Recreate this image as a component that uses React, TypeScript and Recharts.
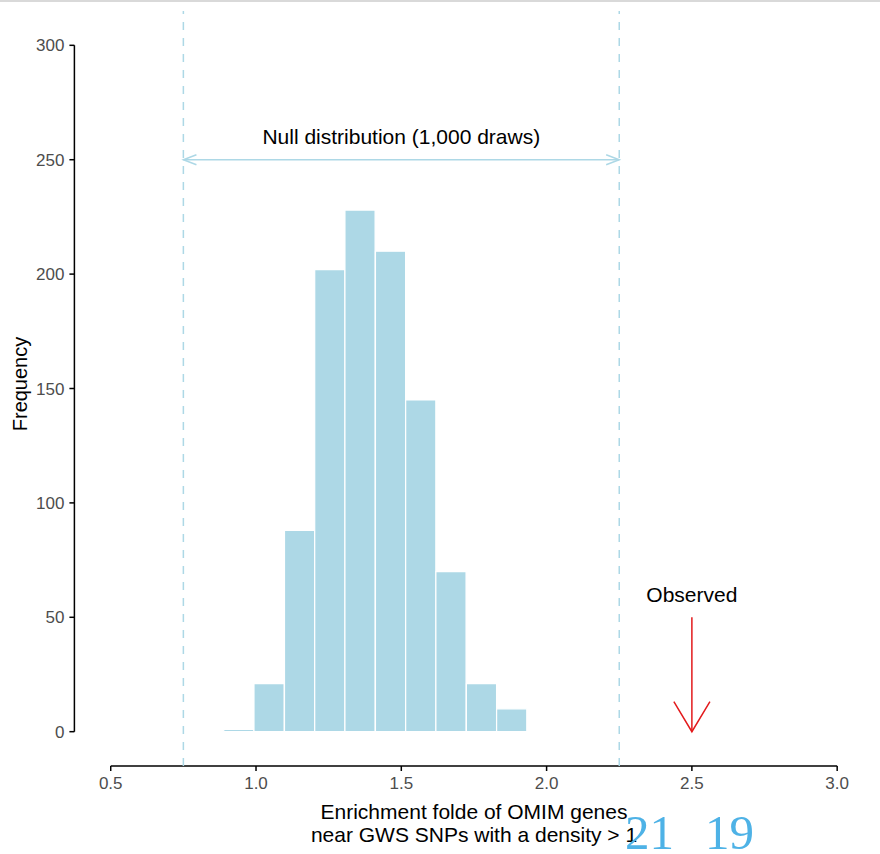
import { ComposedChart, Bar, XAxis, YAxis, ReferenceLine, ReferenceDot } from "recharts";

// histogram of the null enrichment (1,000 draws), bin width ~0.104
const binCenters = [0.941, 1.045, 1.15, 1.254, 1.358, 1.463, 1.567, 1.671, 1.776, 1.88];
const binCounts = [1, 21, 88, 202, 228, 210, 145, 70, 21, 10];

const xTicks = [0.5, 1.0, 1.5, 2.0, 2.5, 3.0];
const yTicks = [0, 50, 100, 150, 200, 250, 300];
const xDomain: [number, number] = [0.375, 3.125];
const yDomain: [number, number] = [-15, 315];

const nullBounds = [0.75, 2.25];
const nullArrowY = 250;
const nullLabel = { x: 1.5, y: 260, text: "Null distribution (1,000 draws)" };
const observed = { x: 2.5, from: 50, to: 0, labelY: 60, text: "Observed" };

const data = binCenters.map((x, i) => ({ x, count: binCounts[i] }));

const FONT = "'Liberation Sans', Arial, sans-serif";
const SERIF = "'Liberation Serif', 'Times New Roman', serif";
const W = 880;
const H = 854;
const margin = { top: 11, right: 6.5, left: 14.4, bottom: 48 };
const Y_AXIS_W = 60;
const plotW = W - margin.left - margin.right - Y_AXIS_W;
// bars fill their bin: use the smallest gap between bin centres (recharts shrinks bars wider than that)
const minStep = Math.min(...binCenters.slice(1).map((c, i) => c - binCenters[i]));
const barPx = (minStep * plotW) / (xDomain[1] - xDomain[0]) - 0.05;

const LIGHTBLUE = "#ADD8E6";

function makeArrow(color: string, head: number, angleDeg: number, both: boolean) {
  return (props: any) => {
    const { x1, y1, x2, y2 } = props;
    const a = (angleDeg * Math.PI) / 180;
    const tip = (tx: number, ty: number, fx: number, fy: number) => {
      const dir = Math.atan2(fy - ty, fx - tx);
      const p1 = [tx + head * Math.cos(dir + a), ty + head * Math.sin(dir + a)];
      const p2 = [tx + head * Math.cos(dir - a), ty + head * Math.sin(dir - a)];
      return `${p1[0]},${p1[1]} ${tx},${ty} ${p2[0]},${p2[1]}`;
    };
    return (
      <g>
        <line x1={x1} y1={y1} x2={x2} y2={y2} stroke={color} strokeWidth={1.5} />
        <polyline points={tip(x2, y2, x1, y1)} fill="none" stroke={color} strokeWidth={1.5} />
        {both && <polyline points={tip(x1, y1, x2, y2)} fill="none" stroke={color} strokeWidth={1.5} />}
      </g>
    );
  };
}

export default function App() {
  return (
    <div style={{ position: "absolute", left: 0, top: 0, width: W, height: H, background: "#fff", fontFamily: FONT, overflow: "hidden" }}>
      <div style={{ position: "absolute", left: 0, top: 0, width: W, height: 2, background: "#d9d9d9" }} />
      <ComposedChart width={W} height={H} data={data} margin={margin}>
        <XAxis
          dataKey="x"
          type="number"
          domain={xDomain}
          ticks={xTicks}
          tickFormatter={(v: number) => v.toFixed(1)}
          axisLine={false}
          tickLine={{ stroke: "#000", strokeWidth: 1.5 }}
          tickSize={5}
          tickMargin={6}
          height={40}
          tick={{ fill: "#4d4d4d", fontSize: 17, fontFamily: FONT }}
        />
        <YAxis
          type="number"
          domain={yDomain}
          ticks={yTicks}
          axisLine={false}
          tickLine={{ stroke: "#000", strokeWidth: 1.5 }}
          tickSize={5}
          tickMargin={5}
          width={Y_AXIS_W}
          tick={{ fill: "#4d4d4d", fontSize: 17, fontFamily: FONT }}
        />

        {/* range-frame axis lines */}
        <ReferenceLine
          segment={[{ x: xDomain[0], y: yTicks[0] }, { x: xDomain[0], y: yTicks[yTicks.length - 1] }]}
          stroke="#000"
          strokeWidth={1.5}
        />
        <ReferenceLine
          segment={[{ x: xTicks[0], y: yDomain[0] }, { x: xTicks[xTicks.length - 1], y: yDomain[0] }]}
          stroke="#000"
          strokeWidth={1.5}
        />

        {nullBounds.map(b => (
          <ReferenceLine key={b} x={b} stroke={LIGHTBLUE} strokeWidth={1.5} strokeDasharray="8 8" />
        ))}

        <Bar
          dataKey="count"
          fill={LIGHTBLUE}
          stroke="#fff"
          strokeWidth={1.2}
          barSize={barPx}
          isAnimationActive={false}
        />

        <ReferenceLine
          segment={[{ x: nullBounds[0], y: nullArrowY }, { x: nullBounds[1], y: nullArrowY }]}
          shape={makeArrow(LIGHTBLUE, 14, 21, true)}
        />
        <ReferenceDot
          x={nullLabel.x}
          y={nullLabel.y}
          r={0}
          fill="none"
          stroke="none"
          label={{ value: nullLabel.text, position: "center", fill: "#000", fontSize: 21, fontFamily: FONT }}
        />

        <ReferenceLine
          segment={[{ x: observed.x, y: observed.from }, { x: observed.x, y: observed.to }]}
          shape={makeArrow("#e31a1c", 35, 31, false)}
        />
        <ReferenceDot
          x={observed.x}
          y={observed.labelY}
          r={0}
          fill="none"
          stroke="none"
          label={{ value: observed.text, position: "center", fill: "#000", fontSize: 21, fontFamily: FONT }}
        />
      </ComposedChart>

      <div
        style={{
          position: "absolute",
          left: 20,
          top: 384,
          transform: "translate(-50%, -50%) rotate(-90deg)",
          fontSize: 20,
          color: "#000",
          whiteSpace: "nowrap",
        }}
      >
        Frequency
      </div>

      <div
        style={{
          position: "absolute",
          left: 74,
          width: 800,
          top: 800,
          textAlign: "center",
          fontSize: 21,
          lineHeight: "23px",
          color: "#000",
        }}
      >
        Enrichment folde of OMIM genes
        <br />
        near GWS SNPs with a density &gt; 1
      </div>

      <div style={{ position: "absolute", left: 625, top: 813, fontFamily: SERIF, fontSize: 49, lineHeight: "40px", color: "#4eb2e6" }}>
        21
      </div>
      <div style={{ position: "absolute", left: 705, top: 813, fontFamily: SERIF, fontSize: 49, lineHeight: "40px", color: "#4eb2e6" }}>
        19
      </div>
    </div>
  );
}
